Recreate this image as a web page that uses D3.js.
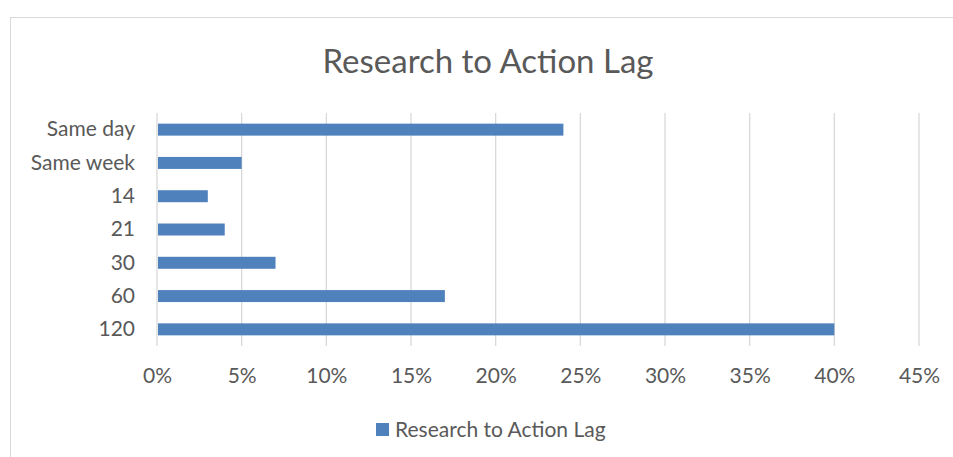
<!DOCTYPE html>
<html>
<head>
<meta charset="utf-8">
<script src="https://cdn.jsdelivr.net/npm/d3@7"></script>
<style>
  body { margin: 0; background: #fff; }
  text { font-family: Lato, sans-serif; fill: #595959; }
</style>
</head>
<body>
<div id="chart"></div>
<script>
// Données
const categories = ["Same day", "Same week", "14", "21", "30", "60", "120"];
const values = [0.24, 0.05, 0.03, 0.04, 0.07, 0.17, 0.40];
const xTicks = [0, 0.05, 0.10, 0.15, 0.20, 0.25, 0.30, 0.35, 0.40, 0.45];
const seriesName = "Research to Action Lag";
const chartTitle = "Research to Action Lag";

const width = 953;
const height = 457;
const margin = {top: 113, right: 34, bottom: 111, left: 157};
const fontSize = "21px";

const svg = d3.select("#chart")
  .append("svg")
  .attr("width", width)
  .attr("height", height);

// Cadre du graphique
svg.append("rect")
  .attr("x", 10.5)
  .attr("y", 17.5)
  .attr("width", width)
  .attr("height", height)
  .attr("fill", "none")
  .attr("stroke", "#d9d9d9");

// Echelles
const x = d3.scaleLinear()
  .domain([0, 0.45])
  .range([margin.left, width - margin.right]);

const y = d3.scaleBand()
  .domain(categories)
  .range([margin.top, height - margin.bottom])
  .paddingInner(0.64)
  .paddingOuter(0.32);

// Grille verticale
svg.append("g")
  .selectAll("line")
  .data(xTicks)
  .enter()
  .append("line")
  .attr("x1", d => x(d))
  .attr("x2", d => x(d))
  .attr("y1", margin.top)
  .attr("y2", height - margin.bottom)
  .attr("stroke", "#d9d9d9")
  .attr("stroke-width", 1.3);

// Axe x (labels seulement)
const xAxis = svg.append("g")
  .attr("transform", `translate(0, ${height - margin.bottom})`)
  .call(d3.axisBottom(x).tickValues(xTicks).tickFormat(d3.format(".0%")).tickSize(0).tickPadding(22));
xAxis.select(".domain").remove();
xAxis.selectAll("text")
  .style("font-size", fontSize)
  .style("font-family", "Lato, sans-serif")
  .attr("fill", "#595959");

// Axe y
const yAxis = svg.append("g")
  .attr("transform", `translate(${margin.left}, 0)`)
  .call(d3.axisLeft(y).tickSize(0).tickPadding(22));
yAxis.select(".domain").remove();
yAxis.selectAll("text")
  .style("font-size", fontSize)
  .style("font-family", "Lato, sans-serif")
  .attr("fill", "#595959");

// Barres
svg.selectAll(".bar")
  .data(categories)
  .enter()
  .append("rect")
  .attr("class", "bar")
  .attr("x", x(0) + 1)
  .attr("y", d => y(d))
  .attr("width", (d, i) => x(values[i]) - x(0) - 1)
  .attr("height", y.bandwidth())
  .attr("fill", "#4f81bd");

// Titre
svg.append("text")
  .attr("x", 488)
  .attr("y", 73)
  .attr("text-anchor", "middle")
  .style("font-size", "33px")
  .text(chartTitle);

// Légende
const legend = svg.append("g").attr("transform", "translate(376, 423)");
legend.append("rect")
  .attr("width", 13)
  .attr("height", 13)
  .attr("fill", "#4f81bd");
legend.append("text")
  .attr("x", 19)
  .attr("y", 6.5)
  .attr("dy", "0.35em")
  .style("font-size", fontSize)
  .text(seriesName);
</script>
</body>
</html>
